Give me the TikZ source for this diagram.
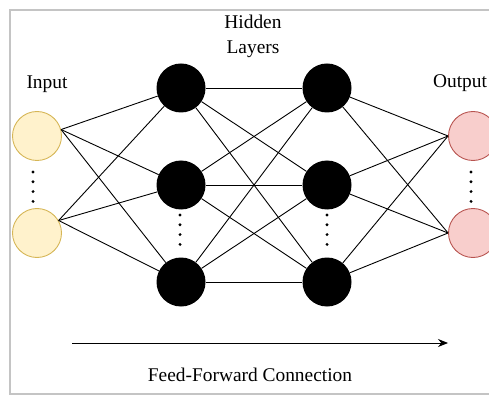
\documentclass[tikz,border=0pt]{standalone}
\usepackage{fontspec}
\setmainfont{Liberation Serif}
\newfontfamily\labelfont{Liberation Serif}
\usetikzlibrary{arrows.meta}

\definecolor{infill}{HTML}{FFF2CC}
\definecolor{indraw}{HTML}{D6B656}
\definecolor{outfill}{HTML}{F8CECC}
\definecolor{outdraw}{HTML}{B85450}
\definecolor{framegray}{HTML}{C4C4C4}

\begin{document}
\begin{tikzpicture}[x=1pt,y=-1pt,>={Stealth[length=10pt,width=8pt]},node distance=97pt,
        neuron/.style={circle,minimum size=49pt,inner sep=0pt},
        hidden/.style={neuron,fill=black},
        inlayer/.style={neuron,draw=indraw,fill=infill,line width=0.9pt},
        outlayer/.style={neuron,draw=outdraw,fill=outfill,line width=0.9pt},
        label/.style={font=\labelfont\fontsize{19.4}{25}\selectfont,inner sep=0pt},
        every edge/.style={draw,line width=0.9pt}]

  \useasboundingbox (0,0) rectangle (489,395);
  \clip (0,0) rectangle (489,395);
  \draw[framegray,line width=1.5pt] (10,10) rectangle (505,394);

  \node[inlayer] (in1) at (37,136) {};
  \node[inlayer] (in2) [below of=in1] {};
  \node[hidden] (h1a) at (181,88) {};
  \node[hidden] (h1b) [below of=h1a] {};
  \node[hidden] (h1c) [below of=h1b] {};
  \node[hidden] (h2a) at (327,88) {};
  \node[hidden] (h2b) [below of=h2a] {};
  \node[hidden] (h2c) [below of=h2b] {};
  \node[outlayer] (out1) at (473,136) {};
  \node[outlayer] (out2) [below of=out1] {};

  \node[label,anchor=base] (inlbl) at (47,89) {Input};
  \node[label,anchor=base] (outlbl) at (460,88) {Output};
  \node[label,align=center] (hidlbl) at (253,36) {Hidden\\Layers};

  \path (in1.15) edge (h1a)
        (in1.15) edge (h1b)
        (in1.15) edge (h1c)
        (in2.30) edge (h1a)
        (in2.30) edge (h1b)
        (in2.30) edge (h1c)
        (h1a) edge (h2a)
        (h1a) edge (h2b)
        (h1a) edge (h2c)
        (h1b) edge (h2a)
        (h1b) edge (h2b)
        (h1b) edge (h2c)
        (h1c) edge (h2a)
        (h1c) edge (h2b)
        (h1c) edge (h2c)
        (h2a) edge (out1.west)
        (h2a) edge (out2.west)
        (h2b) edge (out1.west)
        (h2b) edge (out2.west)
        (h2c) edge (out1.west)
        (h2c) edge (out2.west);

  % vertical dots
  \foreach \x/\y in {33/172,180/215,327/215,471/172}
    \foreach \k in {0,...,3}
      \fill (\x,\y+9.8*\k) circle (1.6pt);

  \coordinate (ffstart) at (72,343);
  \coordinate (ffend) at (448,343);
  \draw[->,line width=1pt] (ffstart) -- (ffend);
  \node[label,anchor=base] (fflbl) at (250,381) {Feed-Forward Connection};

\end{tikzpicture}
\end{document}
